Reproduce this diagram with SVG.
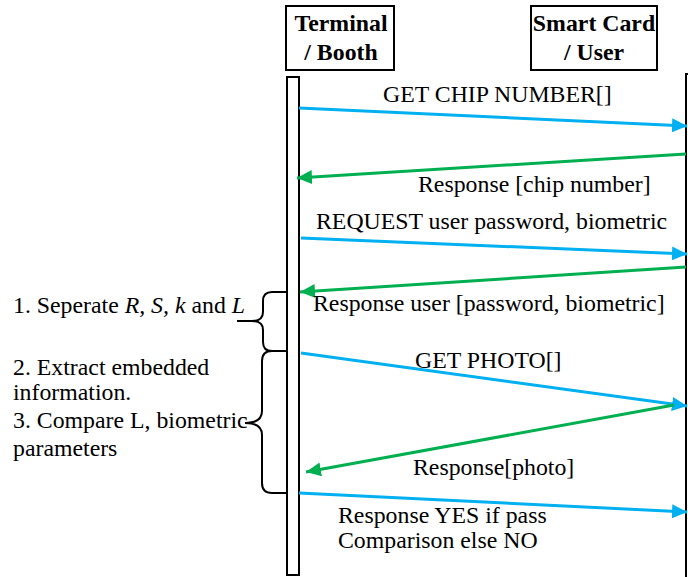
<svg xmlns="http://www.w3.org/2000/svg" width="688" height="577" viewBox="0 0 688 577">
  <defs>
    <marker id="headBlue" markerUnits="userSpaceOnUse" markerWidth="16" markerHeight="14" refX="15" refY="7" orient="auto">
      <path d="M0,0 L15,7 L0,14 Z" fill="#00B0F0"/>
    </marker>
    <marker id="headGreen" markerUnits="userSpaceOnUse" markerWidth="16" markerHeight="14" refX="15" refY="7" orient="auto">
      <path d="M0,0 L15,7 L0,14 Z" fill="#00B050"/>
    </marker>
  </defs>
  <style>
    text { font-family: "Liberation Serif", "Times New Roman", serif; font-size: 23.8px; fill: #000; }
    .title { font-weight: bold; font-size: 23.8px; text-anchor: middle; }
    .box { fill: #fff; stroke: #000; stroke-width: 2; }
    .msg-blue { stroke: #00B0F0; stroke-width: 3; fill: none; marker-end: url(#headBlue); }
    .msg-green { stroke: #00B050; stroke-width: 3; fill: none; marker-end: url(#headGreen); }
    .brace { fill: none; stroke: #000; stroke-width: 2; }
    .it { font-style: italic; }
  </style>

  <rect width="688" height="577" fill="#fff"/>

  <!-- Terminal / Booth participant -->
  <g id="terminal">
    <rect class="box" x="286" y="6" width="108" height="64"/>
    <text class="title" x="341" y="31">Terminal</text>
    <text class="title" x="341" y="60">/ Booth</text>
    <rect class="box" x="287" y="77" width="12" height="498"/>
  </g>

  <!-- Smart Card / User participant -->
  <g id="smartcard">
    <rect class="box" x="531" y="6" width="126" height="64"/>
    <text class="title" x="594" y="31">Smart Card</text>
    <text class="title" x="594" y="60">/ User</text>
    <rect class="box" x="686" y="74" width="12" height="510"/>
  </g>

  <!-- Messages -->
  <g id="connectors">
    <line class="msg-blue" x1="299" y1="108" x2="687" y2="126"/>
    <line class="msg-green" x1="686" y1="154" x2="297" y2="178"/>
    <line class="msg-blue" x1="301" y1="238" x2="687" y2="254"/>
    <line class="msg-green" x1="686" y1="267" x2="300" y2="292"/>
    <line class="msg-blue" x1="301" y1="353" x2="687" y2="406"/>
    <line class="msg-green" x1="674" y1="405" x2="306" y2="472"/>
    <line class="msg-blue" x1="299" y1="493" x2="687" y2="512"/>
  </g>

  <!-- Message labels -->
  <g id="labels">
    <text x="383" y="102">GET CHIP NUMBER[]</text>
    <text x="418" y="192">Response [chip number]</text>
    <text x="316" y="229">REQUEST user password, biometric</text>
    <text x="313" y="311">Response user [password, biometric]</text>
    <text x="415" y="368">GET PHOTO[]</text>
    <text x="413" y="475">Response[photo]</text>
    <text x="338" y="523">Response YES if pass</text>
    <text x="338" y="548">Comparison else NO</text>
  </g>

  <!-- Processing steps at the terminal -->
  <g id="step1">
    <path class="brace" d="M287,292 H272 Q263,292 263,301 V312 Q263,321 252,321 H237 M252,321 Q263,321 263,330 V342 Q263,351 272,351 H287"/>
    <text x="13" y="313">1. Seperate <tspan class="it">R, S, k</tspan> and <tspan class="it">L</tspan></text>
  </g>
  <g id="step2">
    <path class="brace" d="M287,351 H272 Q262,351 262,361 V411 Q262,423 245,423 Q262,423 262,435 V483 Q262,493 272,493 H287"/>
    <text x="13" y="375">2. Extract embedded</text>
    <text x="13" y="400">information.</text>
    <text x="13" y="428">3. Compare L, biometric</text>
    <text x="13" y="456">parameters</text>
  </g>
</svg>
